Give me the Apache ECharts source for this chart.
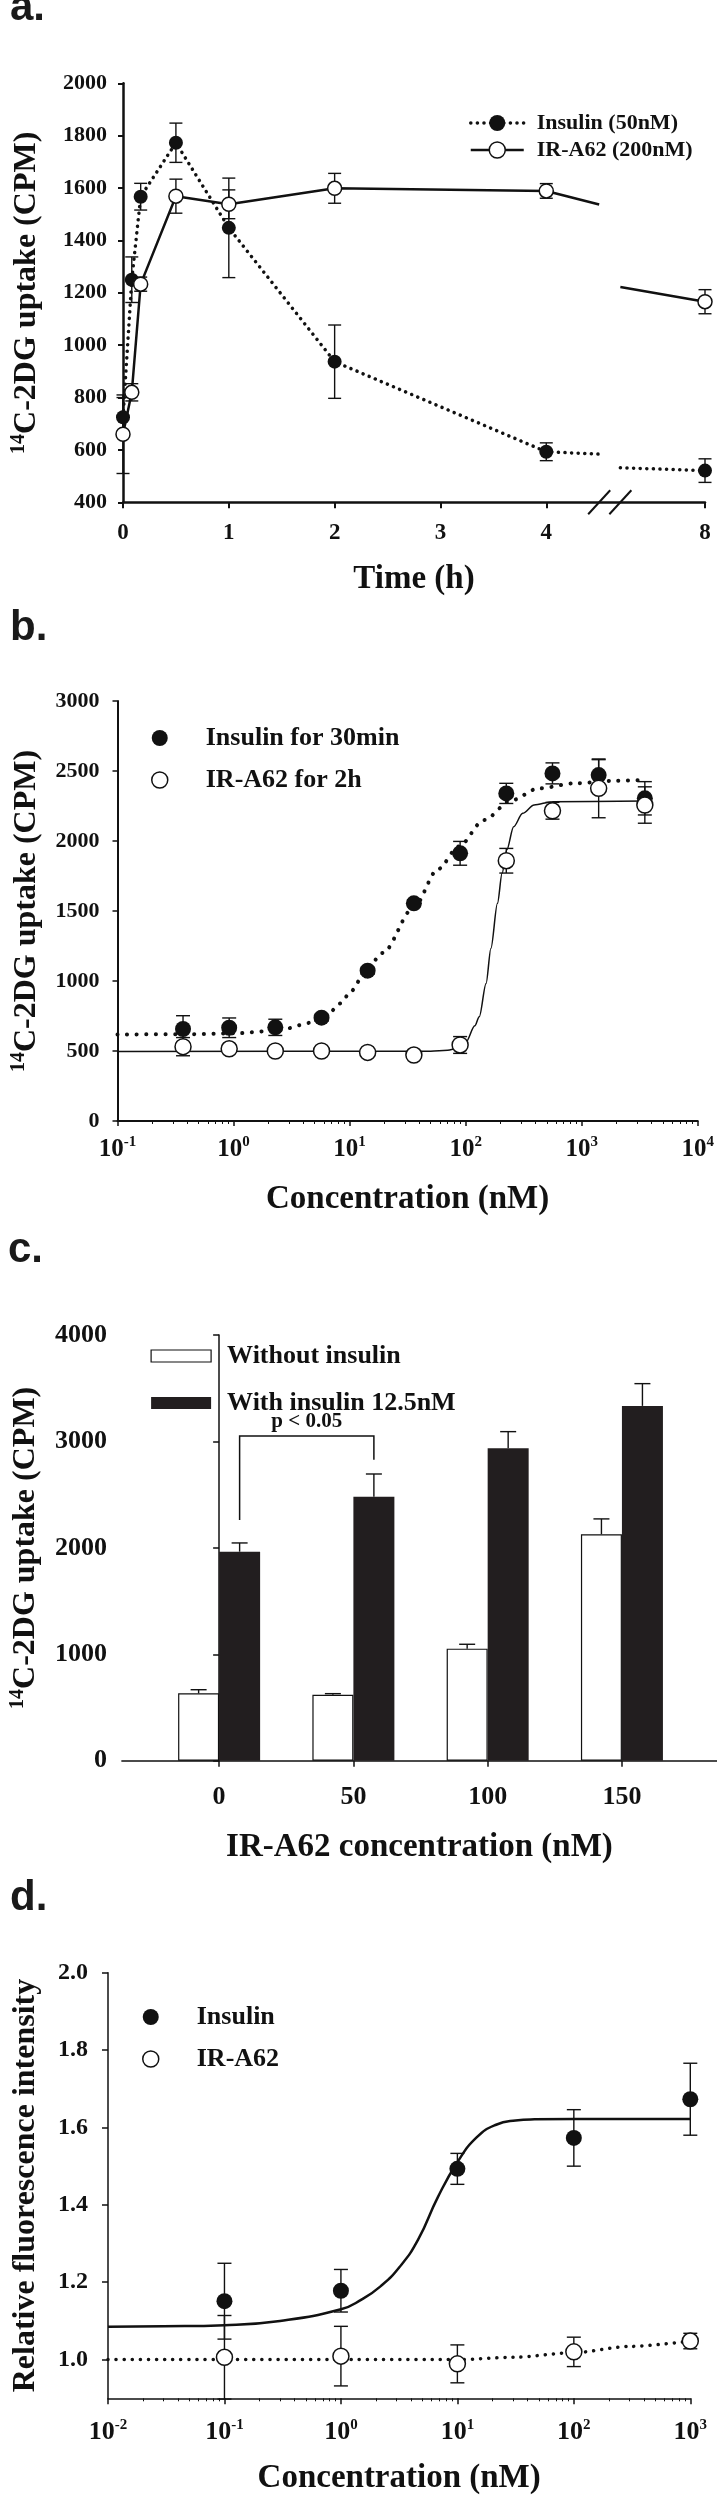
<!DOCTYPE html>
<html>
<head>
<meta charset="utf-8">
<title>14C-2DG uptake and fluorescence</title>
<script src="https://cdn.jsdelivr.net/npm/echarts@6/dist/echarts.min.js"></script>
<style>
html, body { margin: 0; padding: 0; background: #fff; }
#chart { width: 717px; height: 2500px; }
</style>
</head>
<body>
<div id="chart"></div>
<script>
// ---------------- Panel a : time course ----------------
const timeH       = [0, 0.083, 0.167, 0.5, 1, 2, 4, 8];
const insulinA    = [725, 1250, 1567, 1773, 1448, 937, 593, 521];
const insulinAErr = [75, 87, 51, 75, 190, 140, 34, 45];
const irA62A      = [660, 820, 1233, 1569, 1538, 1599, 1589, 1166];
const irA62AErr   = [150, 33, 27, 65, 55, 57, 28, 46];
const timeTicks   = [0, 1, 2, 3, 4, 8];
// visible ends of the connecting lines on each side of the axis break (h, CPM)
const breakEdgeTimes    = [4.5, 7.46];
const insulinABreakEdge = [584, 532];
const irA62ABreakEdge   = [1537, 1222];

// ---------------- Panel b : dose response ----------------
const concB       = [0.367, 0.917, 2.29, 5.73, 14.3, 35.8, 89.6, 224, 560, 1400, 3500];
const insulinB    = [657, 666, 669, 738, 1074, 1555, 1912, 2340, 2483, 2471, 2305];
const insulinBErr = [95, 70, 58, 25, 25, 25, 85, 72, 75, 110, 119];
const irA62B      = [531, 516, 500, 500, 490, 471, 543, 1859, 2216, 2376, 2257];
const irA62BErr   = [65, 25, 20, 20, 20, 20, 60, 88, 60, 210, 130];
const insFitBX = [0.1, 0.4, 1, 2.3, 5, 6.6, 8.3, 10.4, 12.4, 19.3, 35.3, 58, 87, 144, 247, 426, 877, 1982, 3500];
const insFitBY = [618, 620, 626, 645, 705, 769, 840, 930, 1010, 1200, 1520, 1800, 1960, 2150, 2290, 2376, 2412, 2431, 2436];
const irFitBX  = [0.1, 50, 70, 85, 100, 120, 131, 150, 165, 188, 206, 226, 259, 310, 389, 559, 3500];
const irFitBY  = [497, 498, 505, 520, 560, 680, 745, 983, 1233, 1555, 1769, 1936, 2102, 2198, 2257, 2281, 2285];
const decadeTicksB = [0.1, 1, 10, 100, 1000, 10000];

// ---------------- Panel c : bars ----------------
const irConcC       = [0, 50, 100, 150];
const withoutIns    = [633, 620, 1053, 2128];
const withoutInsErr = [34, 10, 41, 144];
const withIns       = [1964, 2481, 2936, 3334];
const withInsErr    = [82, 213, 156, 209];
const sigPair   = [0, 50];
const sigLevels = [3052, 2262, 2827];   // bracket top, left leg end, right leg end
const sigLabel  = 'p < 0.05';

// ---------------- Panel d : fluorescence ----------------
const concD       = [0.1, 1, 10, 100, 1000];
const insulinD    = [1.151, 1.178, 1.493, 1.573, 1.673];
const insulinDErr = [0.098, 0.055, 0.04, 0.073, 0.093];
const irA62D      = [1.006, 1.009, 0.989, 1.02, 1.048];
const irA62DErr   = [0.108, 0.077, 0.049, 0.038, 0.02];
const insFitDX = [0.01, 0.03, 0.1, 0.3, 1, 1.5, 2.2, 3.2, 4.6, 6.8, 10, 14.7, 21.5, 31.6, 46, 100, 1000];
const insFitDY = [1.085, 1.086, 1.089, 1.100, 1.130, 1.155, 1.19, 1.24, 1.31, 1.42, 1.51, 1.575, 1.607, 1.618, 1.621, 1.622, 1.622];
const irFitDX  = [0.01, 10, 30, 100, 300, 1000];
const irFitDY  = [1.0, 1.0, 1.006, 1.018, 1.034, 1.048];
const decadeTicksD = [0.01, 0.1, 1, 10, 100, 1000];
const yTicksD = [1.0, 1.2, 1.4, 1.6, 1.8, 2.0];

// ---------------- helpers ----------------
const FONT = '"Liberation Serif", "Times New Roman", serif';
const SANS = '"Liberation Sans", Arial, sans-serif';
const BLACK = '#111';
const BAR_W = 41;

// broken time axis: 0..4.5 h linear, then a gap, then the late segment up to 8 h
const BREAK_START = 4.5, BREAK_GAP = 0.2, AXIS_END = 5.5;
const LAST_T = timeH[timeH.length - 1];
const POST_SCALE = (AXIS_END - BREAK_START - BREAK_GAP) / (LAST_T - breakEdgeTimes[1]);
function tAxis(t) {
  return t <= BREAK_START ? t : BREAK_START + BREAK_GAP + (t - breakEdgeTimes[1]) * POST_SCALE;
}
function brokenLine(vals, edges) {
  const d = [];
  timeH.forEach((t, i) => { if (t <= BREAK_START) d.push([tAxis(t), vals[i]]); });
  d.push({ value: [tAxis(breakEdgeTimes[0]), edges[0]], symbol: 'none' });
  d.push([BREAK_START + BREAK_GAP / 2, '-']);
  d.push({ value: [tAxis(breakEdgeTimes[1]), edges[1]], symbol: 'none' });
  timeH.forEach((t, i) => { if (t > BREAK_START) d.push([tAxis(t), vals[i]]); });
  return d;
}
function minorLogTicks(lo, hi) {
  const out = [];
  for (let e = Math.round(Math.log10(lo)); e < Math.round(Math.log10(hi)); e++) {
    for (let k = 2; k <= 9; k++) out.push(k * Math.pow(10, e));
  }
  return out;
}
function errorBars(capHalf, lw) {
  return function (params, api) {
    const x = api.value(0), lo = api.value(1), hi = api.value(2);
    const a = api.coord([x, lo]), b = api.coord([x, hi]);
    const style = { stroke: BLACK, lineWidth: lw, fill: null };
    return { type: 'group', children: [
      { type: 'line', shape: { x1: a[0], y1: a[1], x2: b[0], y2: b[1] }, style: style },
      { type: 'line', shape: { x1: a[0] - capHalf, y1: a[1], x2: a[0] + capHalf, y2: a[1] }, style: style },
      { type: 'line', shape: { x1: b[0] - capHalf, y1: b[1], x2: b[0] + capHalf, y2: b[1] }, style: style }
    ]};
  };
}
function errSeries(xIdx, yIdx, xs, vals, errs, capHalf) {
  return {
    type: 'custom', xAxisIndex: xIdx, yAxisIndex: yIdx, z: 1, silent: true,
    renderItem: errorBars(capHalf, 1.4),
    encode: { x: 0, y: [1, 2] },
    data: xs.map((x, i) => [x, vals[i] - errs[i], vals[i] + errs[i]])
  };
}
function barErrSeries(side, vals, errs) {
  return {
    type: 'custom', xAxisIndex: 3, yAxisIndex: 2, z: 4, silent: true,
    encode: { x: 0, y: [1, 2] },
    data: irConcC.map((c, i) => [c, vals[i], vals[i] + errs[i]]),
    renderItem: function (params, api) {
      const x = api.value(0);
      const a = api.coord([x, api.value(1)]), b = api.coord([x, api.value(2)]);
      const cx = a[0] + side * BAR_W / 2;
      const style = { stroke: BLACK, lineWidth: 1.4, fill: null };
      return { type: 'group', children: [
        { type: 'line', shape: { x1: cx, y1: a[1], x2: cx, y2: b[1] }, style: style },
        { type: 'line', shape: { x1: cx - 8, y1: b[1], x2: cx + 8, y2: b[1] }, style: style }
      ]};
    }
  };
}
function supRich(size) {
  return { s: { fontSize: size, lineHeight: size, verticalAlign: 'top', fontFamily: FONT, fontWeight: 'bold', color: BLACK } };
}
function yName(size) {
  return { fontFamily: FONT, fontWeight: 'bold', fontSize: size, lineHeight: 36, color: BLACK, rich: supRich(20) };
}
function xName(size) {
  return { fontFamily: FONT, fontWeight: 'bold', fontSize: size, lineHeight: size, color: BLACK };
}
function tickLbl(size, margin) {
  return { fontFamily: FONT, fontWeight: 'bold', fontSize: size, lineHeight: size, color: BLACK, margin: margin,
           formatter: v => String(v) };
}
function logLbl(size, margin, ticks) {
  return {
    customValues: ticks,
    fontFamily: FONT, fontWeight: 'bold', fontSize: size, lineHeight: 30, color: BLACK, margin: margin,
    formatter: v => '10{s|' + Math.round(Math.log10(v)) + '}',
    rich: supRich(15)
  };
}
function axLine(w) { return { show: true, lineStyle: { color: BLACK, width: w } }; }
function axTick(len, w) { return { show: true, length: len, lineStyle: { color: BLACK, width: w } }; }
const openStyle   = { color: '#fff', borderColor: BLACK, borderWidth: 1.5, opacity: 1 };
const filledStyle = { color: BLACK, opacity: 1 };
const legendText = size => ({ fontFamily: FONT, fontWeight: 'bold', fontSize: size, color: BLACK });

const chart = echarts.init(document.getElementById('chart'), null, { renderer: 'canvas' });

const option = {
  animation: false,
  backgroundColor: '#fff',
  grid: [
    { left: 123,   top: 83.3,   width: 582,   height: 419 },
    { left: 117.5, top: 701,    width: 581.2, height: 420 },
    { left: 121.2, top: 1335,   width: 595.8, height: 425.7 },
    { left: 100.3, top: 1972.7, width: 590,   height: 425.6 }
  ],
  graphic: [
    { type: 'text', x: 10, y: 8.5,   style: { text: 'a.', font: 'bold 42px ' + SANS, fill: '#1a1a1a', verticalAlign: 'middle' } },
    { type: 'text', x: 10, y: 628.5, style: { text: 'b.', font: 'bold 42px ' + SANS, fill: '#1a1a1a', verticalAlign: 'middle' } },
    { type: 'text', x: 8,  y: 1250.5, style: { text: 'c.', font: 'bold 42px ' + SANS, fill: '#1a1a1a', verticalAlign: 'middle' } },
    { type: 'text', x: 10, y: 1898.5, style: { text: 'd.', font: 'bold 42px ' + SANS, fill: '#1a1a1a', verticalAlign: 'middle' } }
  ],
  legend: [
    {
      left: 464, top: 107, orient: 'vertical', selectedMode: false,
      itemWidth: 53, itemHeight: 20, itemGap: 5,
      textStyle: Object.assign(legendText(22), { padding: [0, 0, 0, 8], lineHeight: 20 }),
      data: [
        { name: 'Insulin (50nM)', itemStyle: filledStyle, lineStyle: { color: BLACK, width: 3.5, type: [0.1, 6.5], cap: 'round' } },
        { name: 'IR-A62 (200nM)', itemStyle: openStyle, lineStyle: { color: BLACK, width: 2.5, type: 'solid' } }
      ]
    },
    {
      left: 146, top: 720, orient: 'vertical', selectedMode: false,
      itemWidth: 32, itemHeight: 16, itemGap: 16,
      textStyle: Object.assign(legendText(26), { padding: [0, 0, 0, 25], lineHeight: 16 }),
      data: [
        { name: 'Insulin for 30min', icon: 'circle', itemStyle: filledStyle },
        { name: 'IR-A62 for 2h', icon: 'circle', itemStyle: openStyle }
      ]
    },
    {
      left: 145.5, top: 1338, orient: 'vertical', selectedMode: false,
      itemWidth: 60, itemHeight: 12, itemGap: 21,
      textStyle: Object.assign(legendText(26), { padding: [0, 0, 0, 11], lineHeight: 12 }),
      data: [
        { name: 'Without insulin', icon: 'rect', itemStyle: { color: '#fff', borderColor: BLACK, borderWidth: 1.2, opacity: 1 } },
        { name: 'With insulin 12.5nM', icon: 'rect', itemStyle: { color: '#221e1f', borderWidth: 0, opacity: 1 } }
      ]
    },
    {
      left: 137, top: 1999, orient: 'vertical', selectedMode: false,
      itemWidth: 32, itemHeight: 16, itemGap: 16,
      textStyle: Object.assign(legendText(26), { padding: [0, 0, 0, 25], lineHeight: 16 }),
      data: [
        { name: 'Insulin', icon: 'circle', itemStyle: filledStyle },
        { name: 'IR-A62', icon: 'circle', itemStyle: openStyle }
      ]
    }
  ],
  xAxis: [
    { // 0 : panel a
      gridIndex: 0, type: 'value', min: 0, max: tAxis(LAST_T),
      axisLine: axLine(2.5), axisTick: Object.assign(axTick(6, 2), { customValues: timeTicks.map(tAxis) }),
      splitLine: { show: false },
      axisLabel: Object.assign(tickLbl(23, 19), {
        customValues: timeTicks.map(tAxis),
        formatter: v => { const i = timeTicks.findIndex(t => Math.abs(tAxis(t) - v) < 1e-6); return i >= 0 ? String(timeTicks[i]) : ''; }
      }),
      name: 'Time (h)', nameLocation: 'middle', nameGap: 61, nameTextStyle: xName(33)
    },
    { // 1 : panel b major
      gridIndex: 1, type: 'log', logBase: 10, min: 0.1, max: 10000,
      axisLine: axLine(2), axisTick: Object.assign(axTick(5, 1.5), { customValues: decadeTicksB }),
      splitLine: { show: false }, minorTick: { show: false },
      axisLabel: logLbl(25, 14, decadeTicksB),
      name: 'Concentration (nM)', nameLocation: 'middle', nameGap: 62, nameTextStyle: xName(33)
    },
    { // 2 : panel b minor ticks
      gridIndex: 1, type: 'log', logBase: 10, min: 0.1, max: 10000, position: 'bottom',
      axisLine: { show: false }, axisLabel: { show: false }, splitLine: { show: false },
      axisTick: Object.assign(axTick(3, 1), { customValues: minorLogTicks(0.1, 10000) })
    },
    { // 3 : panel c
      gridIndex: 2, type: 'value', min: -36.2, max: 185.4,
      axisLine: axLine(1.5), axisTick: Object.assign(axTick(6, 1.5), { customValues: irConcC }),
      splitLine: { show: false },
      axisLabel: Object.assign(tickLbl(26, 24), { customValues: irConcC }),
      name: 'IR-A62 concentration (nM)', nameLocation: 'middle', nameGap: 70, nameTextStyle: xName(33)
    },
    { // 4 : panel d major
      gridIndex: 3, type: 'log', logBase: 10, min: 0.01, max: 1000,
      axisLine: axLine(1.5), axisTick: Object.assign(axTick(6, 1.5), { customValues: decadeTicksD }),
      splitLine: { show: false }, minorTick: { show: false },
      axisLabel: logLbl(26, 19, decadeTicksD),
      name: 'Concentration (nM)', nameLocation: 'middle', nameGap: 64, nameTextStyle: xName(33)
    },
    { // 5 : panel d minor ticks
      gridIndex: 3, type: 'log', logBase: 10, min: 0.01, max: 1000, position: 'bottom',
      axisLine: { show: false }, axisLabel: { show: false }, splitLine: { show: false },
      axisTick: Object.assign(axTick(3, 1), { customValues: minorLogTicks(0.01, 1000) })
    }
  ],
  yAxis: [
    {
      gridIndex: 0, type: 'value', min: 400, max: 2000, interval: 200,
      axisLine: axLine(2.5), axisTick: axTick(5, 2), splitLine: { show: false },
      axisLabel: tickLbl(22, 16),
      name: '{s|14}C-2DG uptake (CPM)', nameLocation: 'middle', nameRotate: 90, nameGap: 78,
      nameTextStyle: yName(32)
    },
    {
      gridIndex: 1, type: 'value', min: 0, max: 3000, interval: 500,
      axisLine: axLine(2), axisTick: axTick(5, 1.5), splitLine: { show: false },
      axisLabel: tickLbl(22, 18),
      name: '{s|14}C-2DG uptake (CPM)', nameLocation: 'middle', nameRotate: 90, nameGap: 72,
      nameTextStyle: yName(32)
    },
    {
      gridIndex: 2, type: 'value', min: 0, max: 4000, interval: 1000,
      axisLine: axLine(1.5), axisTick: axTick(6, 1.5), splitLine: { show: false },
      axisLabel: tickLbl(26, 15),
      name: '{s|14}C-2DG uptake (CPM)', nameLocation: 'middle', nameRotate: 90, nameGap: 77,
      nameTextStyle: yName(32)
    },
    {
      gridIndex: 3, type: 'value', min: 0.9, max: 2.0,
      axisLine: axLine(1.5),
      axisTick: Object.assign(axTick(6, 1.5), { customValues: yTicksD }),
      splitLine: { show: false },
      axisLabel: Object.assign(tickLbl(24, 20), { customValues: yTicksD, formatter: v => v.toFixed(1) }),
      name: 'Relative fluorescence intensity', nameLocation: 'middle', nameRotate: 90, nameGap: 64,
      nameTextStyle: yName(32)
    }
  ],
  series: [
    // ----- panel a -----
    errSeries(0, 0, timeH.map(tAxis), insulinA, insulinAErr, 6.5),
    errSeries(0, 0, timeH.map(tAxis), irA62A, irA62AErr, 6.5),
    {
      name: 'Insulin (50nM)', type: 'line', xAxisIndex: 0, yAxisIndex: 0, z: 3,
      data: brokenLine(insulinA, insulinABreakEdge), connectNulls: false,
      symbol: 'circle', symbolSize: 14, itemStyle: filledStyle,
      lineStyle: { color: BLACK, width: 3.5, type: [0.1, 6.5], cap: 'round' }
    },
    {
      name: 'IR-A62 (200nM)', type: 'line', xAxisIndex: 0, yAxisIndex: 0, z: 3,
      data: brokenLine(irA62A, irA62ABreakEdge), connectNulls: false,
      symbol: 'circle', symbolSize: 14, itemStyle: openStyle,
      lineStyle: { color: BLACK, width: 2.5 }
    },
    {
      type: 'custom', xAxisIndex: 0, yAxisIndex: 0, z: 5, silent: true,
      data: [[BREAK_START, 400], [BREAK_START + BREAK_GAP, 400]],
      renderItem: function (params, api) {
        const p = api.coord([api.value(0), api.value(1)]);
        return { type: 'line', shape: { x1: p[0] - 11, y1: p[1] + 12, x2: p[0] + 11, y2: p[1] - 12 },
                 style: { stroke: BLACK, lineWidth: 2 } };
      }
    },
    // ----- panel b -----
    errSeries(1, 1, concB, insulinB, insulinBErr, 7),
    errSeries(1, 1, concB, irA62B, irA62BErr, 7),
    {
      type: 'line', xAxisIndex: 1, yAxisIndex: 1, z: 2, silent: true, symbol: 'none',
      smooth: 0.3, smoothMonotone: 'x',
      data: insFitBX.map((x, i) => [x, insFitBY[i]]),
      lineStyle: { color: BLACK, width: 4, type: [0.1, 9.5], cap: 'round' }
    },
    {
      type: 'line', xAxisIndex: 1, yAxisIndex: 1, z: 2, silent: true, symbol: 'none',
      smooth: 0.3, smoothMonotone: 'x',
      data: irFitBX.map((x, i) => [x, irFitBY[i]]),
      lineStyle: { color: BLACK, width: 1.5 }
    },
    {
      name: 'Insulin for 30min', type: 'scatter', xAxisIndex: 1, yAxisIndex: 1, z: 3,
      symbol: 'circle', symbolSize: 16, itemStyle: filledStyle,
      data: concB.map((x, i) => [x, insulinB[i]])
    },
    {
      name: 'IR-A62 for 2h', type: 'scatter', xAxisIndex: 1, yAxisIndex: 1, z: 3,
      symbol: 'circle', symbolSize: 16, itemStyle: openStyle,
      data: concB.map((x, i) => [x, irA62B[i]])
    },
    // ----- panel c -----
    {
      name: 'Without insulin', type: 'bar', xAxisIndex: 3, yAxisIndex: 2, z: 2,
      barWidth: BAR_W, barGap: '0%',
      itemStyle: { color: '#fff', borderColor: BLACK, borderWidth: 1.2 },
      data: irConcC.map((c, i) => [c, withoutIns[i]])
    },
    {
      name: 'With insulin 12.5nM', type: 'bar', xAxisIndex: 3, yAxisIndex: 2, z: 2,
      barWidth: BAR_W, barGap: '0%',
      itemStyle: { color: '#221e1f' },
      data: irConcC.map((c, i) => [c, withIns[i]])
    },
    barErrSeries(-1, withoutIns, withoutInsErr),
    barErrSeries(1, withIns, withInsErr),
    {
      type: 'custom', xAxisIndex: 3, yAxisIndex: 2, z: 4, silent: true,
      encode: { x: [0, 1], y: [2, 3, 4] },
      data: [[sigPair[0], sigPair[1], sigLevels[0], sigLevels[1], sigLevels[2]]],
      renderItem: function (params, api) {
        const x1 = api.value(0), x2 = api.value(1);
        const tl = api.coord([x1, api.value(2)]), bl = api.coord([x1, api.value(3)]);
        const tr = api.coord([x2, api.value(2)]), br = api.coord([x2, api.value(4)]);
        const dx = BAR_W / 2;
        return { type: 'group', children: [
          { type: 'polyline',
            shape: { points: [[bl[0] + dx, bl[1]], [tl[0] + dx, tl[1]], [tr[0] + dx, tr[1]], [br[0] + dx, br[1]]] },
            style: { stroke: BLACK, lineWidth: 1.5, fill: null } },
          { type: 'text',
            style: { text: sigLabel, x: (tl[0] + tr[0]) / 2 + dx, y: tl[1] - 14, align: 'center', verticalAlign: 'middle',
                     font: 'bold 21px ' + FONT, fill: BLACK } }
        ]};
      }
    },
    // ----- panel d -----
    errSeries(4, 3, concD, insulinD, insulinDErr, 7),
    errSeries(4, 3, concD, irA62D, irA62DErr, 7),
    {
      type: 'line', xAxisIndex: 4, yAxisIndex: 3, z: 2, silent: true, symbol: 'none',
      smooth: 0.5,
      data: insFitDX.map((x, i) => [x, insFitDY[i]]),
      lineStyle: { color: BLACK, width: 2.5 }
    },
    {
      type: 'line', xAxisIndex: 4, yAxisIndex: 3, z: 2, silent: true, symbol: 'none',
      smooth: 0.3, smoothMonotone: 'x',
      data: irFitDX.map((x, i) => [x, irFitDY[i]]),
      lineStyle: { color: BLACK, width: 3.5, type: [0.1, 8], cap: 'round' }
    },
    {
      name: 'Insulin', type: 'scatter', xAxisIndex: 4, yAxisIndex: 3, z: 3,
      symbol: 'circle', symbolSize: 16, itemStyle: filledStyle,
      data: concD.map((x, i) => [x, insulinD[i]])
    },
    {
      name: 'IR-A62', type: 'scatter', xAxisIndex: 4, yAxisIndex: 3, z: 3,
      symbol: 'circle', symbolSize: 16, itemStyle: openStyle,
      data: concD.map((x, i) => [x, irA62D[i]])
    }
  ]
};
chart.setOption(option);
</script>
</body>
</html>
